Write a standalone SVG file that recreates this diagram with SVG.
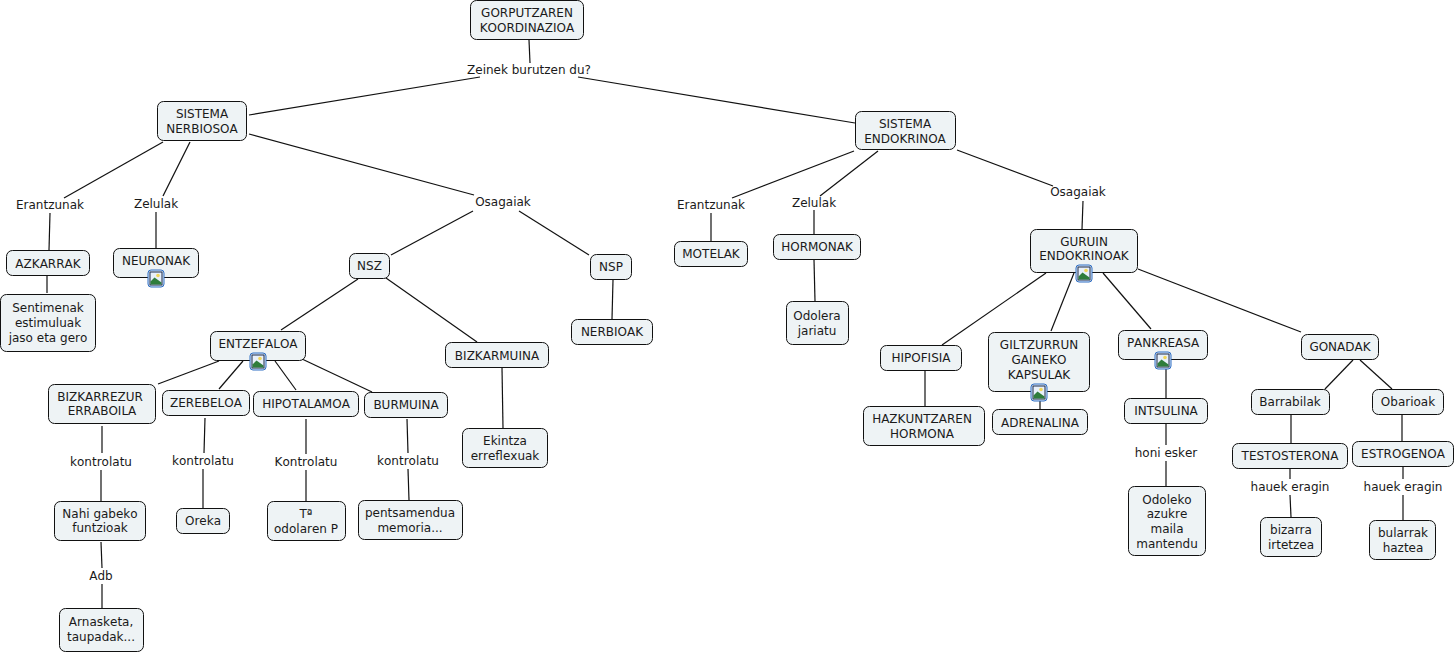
<svg xmlns="http://www.w3.org/2000/svg" width="1456" height="654" viewBox="0 0 1456 654">
<style>
text{font-family:"DejaVu Sans",Verdana,sans-serif;font-size:12px;fill:#1a1a1a;text-anchor:middle;font-kerning:none}
.n rect.b{fill:#eef3f5;stroke:#111;stroke-width:1}
#connectors path{fill:none;stroke:#111;stroke-width:1.2}
</style>
<defs>
<g id="icon">
<rect x="0.5" y="0.5" width="16" height="17" rx="3" fill="#dfe9f7" stroke="#2f6fc4"/>
<rect x="2.5" y="2.5" width="12" height="13" fill="#e8f0fa" stroke="#1b2a4a" stroke-width="1"/>
<circle cx="10.500" cy="6" r="1.8" fill="#f2d65a"/>
<path d="M3 15L3 12L7 8L14 13L14 15Z" fill="#2f7d3c"/>
</g>
</defs>
<g id="connectors">
<path d="M529 40L530 63"/>
<path d="M480 77L249 115"/>
<path d="M578 77L855 123"/>
<path d="M163 142L64 198"/>
<path d="M190 142L163 196"/>
<path d="M249 134L474 195"/>
<path d="M854 151L732 198"/>
<path d="M878 151L820 196"/>
<path d="M957 150L1053 186"/>
<path d="M50 213L49 250"/>
<path d="M156 212L156 248"/>
<path d="M47 276L47 293"/>
<path d="M473 211L391 255"/>
<path d="M519 211L589 255"/>
<path d="M613 280L612 319"/>
<path d="M358 279L281 330"/>
<path d="M386 278L477 342"/>
<path d="M219 361L158 384"/>
<path d="M243 361L219 389"/>
<path d="M275 361L296 390"/>
<path d="M302 359L372 392"/>
<path d="M502 368L503 428"/>
<path d="M102 426L102 453"/>
<path d="M101 470L101 501"/>
<path d="M205 418L204 453"/>
<path d="M203 469L203 508"/>
<path d="M306 419L306 454"/>
<path d="M306 470L306 501"/>
<path d="M407 419L408 453"/>
<path d="M408 469L409 500"/>
<path d="M101 542L102 568"/>
<path d="M102 584L102 608"/>
<path d="M711 213L711 241"/>
<path d="M814 210L814 234"/>
<path d="M814 260L815 301"/>
<path d="M1083 201L1082 229"/>
<path d="M1046 273L942 345"/>
<path d="M1074 273L1051 331"/>
<path d="M1103 273L1151 329"/>
<path d="M1138 269L1301 332"/>
<path d="M925 370L925 406"/>
<path d="M1040 401L1040 409"/>
<path d="M1166 369L1166 398"/>
<path d="M1166 424L1166 445"/>
<path d="M1166 461L1166 486"/>
<path d="M1353 360L1325 389"/>
<path d="M1360 360L1392 389"/>
<path d="M1291 415L1291 443"/>
<path d="M1402 415L1402 441"/>
<path d="M1290 469L1290 479"/>
<path d="M1290 495L1291 517"/>
<path d="M1403 467L1403 479"/>
<path d="M1403 495L1403 520"/>
</g>
<g id="labels">
<text x="529" y="74">Zeinek burutzen du?</text>
<text x="50" y="209">Erantzunak</text>
<text x="156" y="208">Zelulak</text>
<text x="503" y="206">Osagaiak</text>
<text x="711" y="209">Erantzunak</text>
<text x="814" y="207">Zelulak</text>
<text x="1078" y="196">Osagaiak</text>
<text x="101" y="466">kontrolatu</text>
<text x="203" y="465">kontrolatu</text>
<text x="306" y="466">Kontrolatu</text>
<text x="408" y="465">kontrolatu</text>
<text x="101" y="580">Adb</text>
<text x="1166" y="457">honi esker</text>
<text x="1290" y="491">hauek eragin</text>
<text x="1403" y="491">hauek eragin</text>
</g>
<g id="n1" class="n"><rect class="b" x="470.5" y="0.5" width="113" height="39" rx="6"/><text x="527" y="17">GORPUTZAREN</text><text x="527" y="32">KOORDINAZIOA</text></g>
<g id="n2" class="n"><rect class="b" x="157.5" y="101.5" width="89" height="39" rx="6"/><text x="202" y="118">SISTEMA</text><text x="202" y="133">NERBIOSOA</text></g>
<g id="n3" class="n"><rect class="b" x="855.5" y="111.5" width="100" height="38" rx="6"/><text x="905" y="128">SISTEMA</text><text x="905" y="143">ENDOKRINOA</text></g>
<g id="n4" class="n"><rect class="b" x="6.5" y="250.5" width="83" height="25" rx="6"/><text x="48" y="268">AZKARRAK</text></g>
<g id="n5" class="n"><rect class="b" x="113.5" y="248.5" width="85" height="29" rx="6"/><text x="156" y="265">NEURONAK</text><use href="#icon" x="147.500" y="269.500"/></g>
<g id="n6" class="n"><rect class="b" x="0.5" y="294.5" width="95" height="57" rx="6"/><text x="48" y="312">Sentimenak</text><text x="48" y="327">estimuluak</text><text x="48" y="342">jaso eta gero</text></g>
<g id="n7" class="n"><rect class="b" x="210.5" y="331.5" width="95" height="29" rx="6"/><text x="258" y="348">ENTZEFALOA</text><use href="#icon" x="249.500" y="352.500"/></g>
<g id="n8" class="n"><rect class="b" x="48.5" y="384.5" width="107" height="39" rx="6"/><text x="100" y="401">BIZKARREZUR</text><text x="102" y="415">ERRABOILA</text></g>
<g id="n9" class="n"><rect class="b" x="162.5" y="390.5" width="87" height="25" rx="6"/><text x="206" y="407">ZEREBELOA</text></g>
<g id="n10" class="n"><rect class="b" x="253.5" y="391.5" width="105" height="25" rx="6"/><text x="306" y="408">HIPOTALAMOA</text></g>
<g id="n11" class="n"><rect class="b" x="364.5" y="392.5" width="83" height="25" rx="6"/><text x="406" y="409">BURMUINA</text></g>
<g id="n12" class="n"><rect class="b" x="349.5" y="253.5" width="40" height="25" rx="6"/><text x="369.500" y="270">NSZ</text></g>
<g id="n13" class="n"><rect class="b" x="590.5" y="254.5" width="41" height="25" rx="6"/><text x="611" y="271">NSP</text></g>
<g id="n14" class="n"><rect class="b" x="571.5" y="319.5" width="81" height="25" rx="6"/><text x="612" y="336">NERBIOAK</text></g>
<g id="n15" class="n"><rect class="b" x="445.5" y="342.5" width="103" height="25" rx="6"/><text x="497" y="360">BIZKARMUINA</text></g>
<g id="n16" class="n"><rect class="b" x="462.5" y="428.5" width="85" height="39" rx="6"/><text x="505" y="445">Ekintza</text><text x="505" y="460">erreflexuak</text></g>
<g id="n17" class="n"><rect class="b" x="54.5" y="501.5" width="91" height="39" rx="6"/><text x="100" y="518">Nahi gabeko</text><text x="100" y="532">funtzioak</text></g>
<g id="n18" class="n"><rect class="b" x="176.5" y="508.5" width="53" height="25" rx="6"/><text x="203" y="525">Oreka</text></g>
<g id="n19" class="n"><rect class="b" x="267.5" y="501.5" width="78" height="39" rx="6"/><text x="306" y="518">Tª</text><text x="306" y="533">odolaren P</text></g>
<g id="n20" class="n"><rect class="b" x="358.5" y="500.5" width="104" height="39" rx="6"/><text x="410" y="517">pentsamendua</text><text x="410" y="532">memoria...</text></g>
<g id="n21" class="n"><rect class="b" x="59.5" y="608.5" width="84" height="43" rx="6"/><text x="101" y="626">Arnasketa,</text><text x="101" y="641">taupadak...</text></g>
<g id="n22" class="n"><rect class="b" x="674.5" y="241.5" width="73" height="25" rx="6"/><text x="711" y="258">MOTELAK</text></g>
<g id="n23" class="n"><rect class="b" x="773.5" y="234.5" width="87" height="25" rx="6"/><text x="817" y="251">HORMONAK</text></g>
<g id="n24" class="n"><rect class="b" x="786.5" y="301.5" width="62" height="43" rx="6"/><text x="817" y="320">Odolera</text><text x="817" y="335">jariatu</text></g>
<g id="n25" class="n"><rect class="b" x="1030.5" y="229.5" width="107" height="43" rx="6"/><text x="1084" y="246">GURUIN</text><text x="1084" y="260">ENDOKRINOAK</text><use href="#icon" x="1075.500" y="264.500"/></g>
<g id="n26" class="n"><rect class="b" x="880.5" y="345.5" width="81" height="25" rx="6"/><text x="921" y="362">HIPOFISIA</text></g>
<g id="n27" class="n"><rect class="b" x="988.5" y="332.5" width="101" height="59" rx="6"/><text x="1039" y="349">GILTZURRUN</text><text x="1039" y="364">GAINEKO</text><text x="1039" y="379">KAPSULAK</text><use href="#icon" x="1030.500" y="383.500"/></g>
<g id="n28" class="n"><rect class="b" x="1118.5" y="330.5" width="89" height="29" rx="6"/><text x="1163" y="347">PANKREASA</text><use href="#icon" x="1154.500" y="351.500"/></g>
<g id="n29" class="n"><rect class="b" x="1301.5" y="334.5" width="77" height="25" rx="6"/><text x="1340" y="351">GONADAK</text></g>
<g id="n30" class="n"><rect class="b" x="863.5" y="406.5" width="121" height="39" rx="6"/><text x="922" y="423">HAZKUNTZAREN</text><text x="922" y="438">HORMONA</text></g>
<g id="n31" class="n"><rect class="b" x="992.5" y="409.5" width="95" height="25" rx="6"/><text x="1040" y="427">ADRENALINA</text></g>
<g id="n32" class="n"><rect class="b" x="1124.5" y="398.5" width="83" height="25" rx="6"/><text x="1166" y="415">INTSULINA</text></g>
<g id="n33" class="n"><rect class="b" x="1128.5" y="486.5" width="77" height="69" rx="6"/><text x="1167" y="504">Odoleko</text><text x="1167" y="518">azukre</text><text x="1167" y="533">maila</text><text x="1167" y="548">mantendu</text></g>
<g id="n34" class="n"><rect class="b" x="1251.5" y="389.5" width="78" height="25" rx="6"/><text x="1290" y="406">Barrabilak</text></g>
<g id="n35" class="n"><rect class="b" x="1372.5" y="389.5" width="71" height="25" rx="6"/><text x="1408" y="406">Obarioak</text></g>
<g id="n36" class="n"><rect class="b" x="1232.5" y="443.5" width="115" height="25" rx="6"/><text x="1290" y="460">TESTOSTERONA</text></g>
<g id="n37" class="n"><rect class="b" x="1352.5" y="441.5" width="101" height="25" rx="6"/><text x="1403" y="458">ESTROGENOA</text></g>
<g id="n38" class="n"><rect class="b" x="1260.5" y="517.5" width="61" height="39" rx="6"/><text x="1291" y="534">bizarra</text><text x="1291" y="549">irtetzea</text></g>
<g id="n39" class="n"><rect class="b" x="1369.5" y="520.5" width="66" height="39" rx="6"/><text x="1403" y="537">bularrak</text><text x="1403" y="552">haztea</text></g>
</svg>
